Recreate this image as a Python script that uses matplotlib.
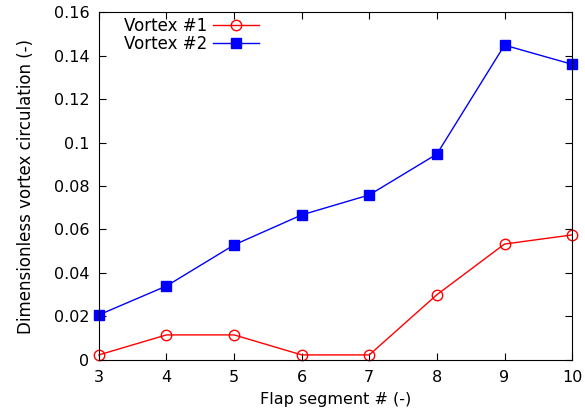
import matplotlib
matplotlib.use('Agg')
from matplotlib import pyplot as plt

segments = [3, 4, 5, 6, 7, 8, 9, 10]
vortex_1 = [0.0023, 0.0115, 0.0115, 0.0023, 0.0023, 0.030, 0.0533, 0.0575]
vortex_2 = [0.0207, 0.034, 0.0529, 0.0667, 0.0759, 0.0947, 0.1448, 0.136]

plt.rcParams['font.family'] = ['DejaVu Sans']
plt.rcParams['font.size'] = 11.5

fig = plt.figure(figsize = (5.85, 4.18), dpi = 100)
ax = fig.add_axes([0.169, 0.139, 0.809, 0.832])

ax.plot(segments, vortex_1, color = 'red', lw = 1, marker = 'o', ms = 7.5,
        mfc = 'none', mec = 'red', mew = 1, label = 'Vortex #1', clip_on = False)
ax.plot(segments, vortex_2, color = 'blue', lw = 1, marker = 's', ms = 7.5,
        mfc = 'blue', mec = 'blue', label = 'Vortex #2', clip_on = False)

ax.set_xlim(3, 10)
ax.set_ylim(0, 0.16)
ax.set_xticks(segments)
ax.set_yticks([0, 0.02, 0.04, 0.06, 0.08, 0.1, 0.12, 0.14, 0.16])
ax.set_yticklabels(['0', '0.02', '0.04', '0.06', '0.08', '0.1', '0.12', '0.14', '0.16'])
ax.tick_params(direction = 'in', top = True, right = True, length = 5, pad = 7)
ax.set_xlabel('Flap segment # (-)', labelpad = 5)
ax.set_ylabel('Dimensionless vortex circulation (-)', fontsize = 12, labelpad = 13)

ax.legend(loc = 'upper left', frameon = False, markerfirst = False,
          fontsize = 12, handlelength = 2.8, borderaxespad = 0.0,
          labelspacing = 0.0, handletextpad = 0.3, bbox_to_anchor = (0.04, 1.005))

fig.savefig('out.png', dpi = 100)
